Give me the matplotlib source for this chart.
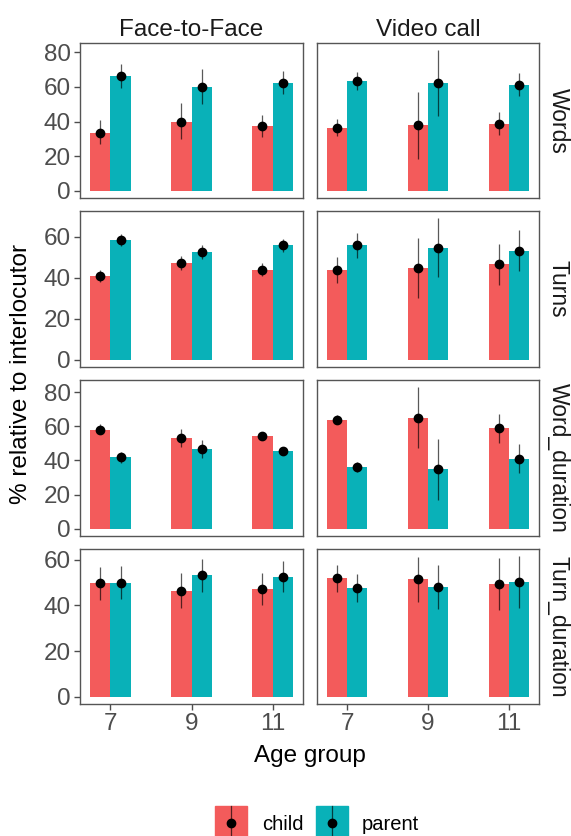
import numpy as np
import matplotlib
matplotlib.use("Agg")
import matplotlib.pyplot as plt
from matplotlib.patches import Rectangle
from matplotlib.lines import Line2D

plt.rcParams["font.family"] = ["Liberation Sans", "DejaVu Sans"]

AGES = ["7", "9", "11"]
MODES = ["Face-to-Face", "Video call"]
MEASURES = ["Words", "Turns", "Word_duration", "Turn_duration"]
GROUPS = ["child", "parent"]
COLORS = {"child": "#F35B5B", "parent": "#09B1B8"}

# each list: Face-to-Face 7, 9, 11 then Video call 7, 9, 11
words_child = [33.7, 40.0, 37.5, 36.6, 37.9, 38.7]
words_child_lo = [27.0, 29.9, 31.2, 31.8, 18.7, 32.0]
words_child_hi = [41.0, 50.5, 43.8, 41.7, 57.1, 45.5]
words_parent = [66.4, 59.8, 62.5, 63.4, 62.3, 61.1]
words_parent_lo = [59.4, 49.9, 56.2, 58.5, 43.2, 54.7]
words_parent_hi = [73.5, 70.5, 69.0, 68.8, 81.3, 68.2]

turns_child = [41.0, 47.2, 44.0, 43.9, 44.9, 46.7]
turns_child_lo = [37.9, 43.9, 41.0, 37.7, 30.4, 36.6]
turns_child_hi = [43.9, 50.4, 47.2, 50.1, 59.3, 56.4]
turns_parent = [58.5, 52.4, 55.8, 55.8, 54.6, 53.2]
turns_parent_lo = [55.6, 49.1, 52.8, 49.6, 40.3, 43.1]
turns_parent_hi = [61.5, 55.8, 58.9, 61.8, 69.1, 63.1]

wdur_child = [58.1, 53.1, 54.3, 63.9, 64.9, 58.9]
wdur_child_lo = [55.2, 48.1, 52.3, 61.6, 47.1, 50.4]
wdur_child_hi = [61.6, 58.3, 56.2, 66.5, 82.9, 67.4]
wdur_parent = [41.9, 46.9, 45.5, 36.0, 35.0, 40.9]
wdur_parent_lo = [38.4, 41.7, 43.6, 33.1, 17.1, 32.6]
wdur_parent_hi = [45.2, 51.9, 47.5, 39.3, 52.5, 49.4]

tdur_child = [49.6, 46.5, 47.1, 51.8, 51.5, 49.5]
tdur_child_lo = [42.4, 38.8, 40.1, 46.0, 41.7, 38.1]
tdur_child_hi = [56.8, 54.0, 54.0, 57.8, 61.2, 60.7]
tdur_parent = [49.9, 53.1, 52.5, 47.8, 48.1, 50.2]
tdur_parent_lo = [42.7, 45.8, 45.8, 41.7, 38.4, 38.7]
tdur_parent_hi = [57.1, 60.4, 59.4, 53.7, 57.8, 61.6]

ROWS = [
    (words_child, words_child_lo, words_child_hi, words_parent, words_parent_lo, words_parent_hi, 80),
    (turns_child, turns_child_lo, turns_child_hi, turns_parent, turns_parent_lo, turns_parent_hi, 60),
    (wdur_child, wdur_child_lo, wdur_child_hi, wdur_parent, wdur_parent_lo, wdur_parent_hi, 80),
    (tdur_child, tdur_child_lo, tdur_child_hi, tdur_parent, tdur_parent_lo, tdur_parent_hi, 60),
]

W, H = 571, 836
fig = plt.figure(figsize=(W / 100, H / 100), dpi=100)

COL_X = [(80, 303), (317, 539)]
ROW_Y = [(43, 198), (211, 367), (380, 536), (549, 704)]
TICK_GREY = "#4D4D4D"


def px_axes(x0, x1, y0, y1):
    return fig.add_axes([x0 / W, 1 - y1 / H, (x1 - x0) / W, (y1 - y0) / H])


x = np.arange(1, 4)
bw = 0.25
for r, (cm, clo, chi, pm, plo, phi, ytop) in enumerate(ROWS):
    ymax = max(max(chi), max(phi))
    pad = 0.05 * ymax
    for c in range(2):
        ax = px_axes(*COL_X[c], *ROW_Y[r])
        sl = slice(3 * c, 3 * c + 3)
        for g, (m, lo, hi) in enumerate([(cm, clo, chi), (pm, plo, phi)]):
            xs = x + (g - 0.5) * bw
            mv = np.array(m[sl])
            ax.bar(xs, mv, width=bw, color=COLORS[GROUPS[g]], linewidth=0, zorder=1)
            ax.vlines(xs, lo[sl], hi[sl], color="black", alpha=0.65, lw=0.9, zorder=2)
            ax.plot(xs, mv, "o", color="black", ms=6, zorder=3)
        ax.set_xlim(0.625, 3.375)
        ax.set_ylim(-pad, ymax + pad)
        ax.set_yticks(np.arange(0, ytop + 1, 20))
        ax.set_xticks(x)
        for s in ax.spines.values():
            s.set_color("#555555")
            s.set_linewidth(1.0)
        ax.tick_params(colors=TICK_GREY, labelcolor=TICK_GREY, labelsize=17.5,
                       length=4.5, width=1.0, pad=2)
        if c == 1:
            ax.tick_params(axis="y", left=False, labelleft=False)
        if r < 3:
            ax.tick_params(axis="x", bottom=False, labelbottom=False)
        else:
            ax.set_xticklabels(AGES)
        if r == 0:
            ax.set_title(MODES[c], fontsize=17.5, color="#1A1A1A", pad=5)
        if c == 1:
            ax.text(1.035, 0.5, MEASURES[r], transform=ax.transAxes, rotation=-90,
                    ha="left", va="center", fontsize=16.5, color="#1A1A1A")

fig.text(309.5 / W, 1 - 756 / H, "Age group", ha="center", va="center", fontsize=17.5)
fig.text(21 / W, 1 - 373.5 / H, "% relative to interlocutor", ha="center",
         va="center", rotation=90, fontsize=17.5)

# legend at the bottom
for g, (kx, tx) in zip(GROUPS, [(215, 262), (316, 362)]):
    fig.patches.append(Rectangle((kx / W, 1 - 838 / H), 32 / W, 32 / H,
                                 transform=fig.transFigure, color=COLORS[g]))
    cx = (kx + 16) / W
    fig.lines.append(Line2D([cx, cx], [1 - 806 / H, 0], transform=fig.transFigure,
                            color="black", alpha=0.65, lw=0.9))
    fig.lines.append(Line2D([cx], [1 - 822.5 / H], transform=fig.transFigure,
                            marker="o", color="black", ms=6))
    fig.text(tx / W, 1 - 825 / H, g, ha="left", va="center", fontsize=14.5)

fig.savefig("out.png", dpi=100)
